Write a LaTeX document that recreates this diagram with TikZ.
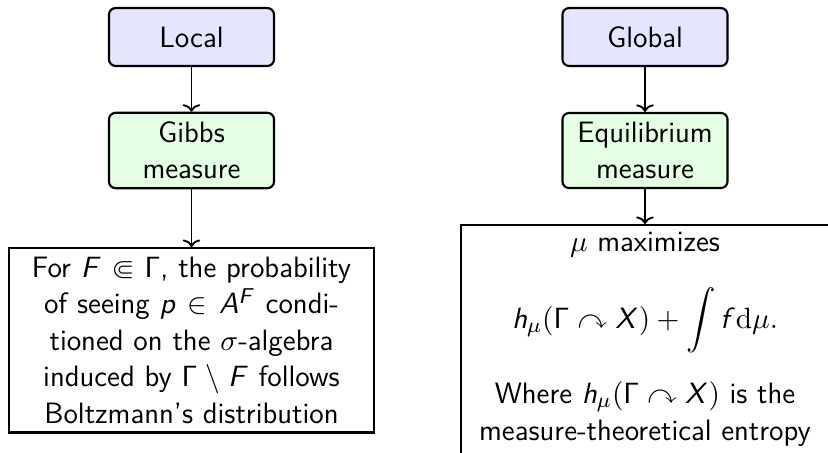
\documentclass[tikz,border=0pt]{standalone}
\usepackage{amsmath,amssymb}
\usetikzlibrary{arrows.meta}
\renewcommand{\familydefault}{\sfdefault}
\DeclareMathAlphabet{\mathsfit}{OT1}{cmss}{m}{sl}
\DeclareMathAlphabet{\mathrmserif}{OT1}{cmr}{m}{n}
\newcommand{\sv}[1]{\mathsfit{#1}}
\newcommand{\sG}{\mathsf{\Gamma}}
\tikzset{
  basefont/.style={font=\fontsize{11}{13.6}\selectfont},
  topbox/.style={basefont, draw, thick, rounded corners=2.5pt, fill=blue!10,
    minimum width=61.6pt, minimum height=21.6pt, align=center},
  midbox/.style={basefont, draw, thick, rounded corners=2.5pt, fill=green!10,
    minimum width=61.6pt, minimum height=28pt, align=center},
  bigbox/.style={basefont, draw, thick, text width=129.5pt, align=center},
  frame/.style={draw, thick, minimum width=137.4pt},
  txt/.style={basefont, anchor=base, inner sep=0pt},
  arr/.style={-{To[length=2.8pt,width=6.6pt]}, line width=0.7pt}
}
\begin{document}
\begin{tikzpicture}[x=0.3731pt, y=-0.3731pt]
\useasboundingbox (0,0) rectangle (828,453);
% left column
\node[topbox] (local) at (191.5,37) {Local};
\node[midbox] (gibbs) at (191.5,150.5) {Gibbs\\measure};
\node[bigbox, anchor=north] (lbox) at (191.5,247)
  {For $\sv{F} \Subset \sG$, the probability\\
   of seeing $\sv{p} \in \sv{A}^{\sv{F}}$ condi-\\
   tioned on the $\sigma$-algebra\\
   induced by $\sG \setminus \sv{F}$ follows\\
   Boltzmann's distribution};
\draw[arr] (local) -- (gibbs);
\draw[arr] (gibbs) -- (lbox);
% right column
\node[topbox] (global) at (645,37) {Global};
\node[midbox] (equil) at (645,150.5) {Equilibrium\\measure};
\node[frame, anchor=north, minimum height=120pt] (rbox) at (645,224) {};
\node[txt] (t1) at (645,252) {$\mu$ maximizes};
\node[txt] (t2) at (645,328)
  {$\displaystyle \sv{h}_{\mu}(\sG \curvearrowright \sv{X}) + \int \sv{f}\mathrmserif{d}\mu.$};
\node[txt] (t3) at (645,403) {Where $\sv{h}_{\mu}(\sG \curvearrowright \sv{X})$ is the};
\node[txt] (t4) at (645,440) {measure-theoretical entropy};
\draw[arr] (global) -- (equil);
\draw[arr] (equil) -- (rbox);
\end{tikzpicture}
\end{document}
